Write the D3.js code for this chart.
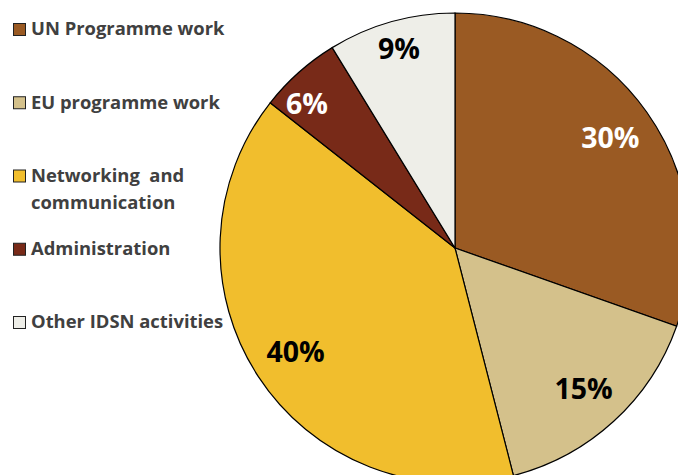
<!DOCTYPE html>
<html>
<head>
<meta charset="utf-8">
<script src="https://cdn.jsdelivr.net/npm/d3@7"></script>
<style>
  body { margin: 0; background: #fff; }
  svg { display: block; }
</style>
</head>
<body>
<div id="chart"></div>
<script>
const categories = ['UN Programme work', 'EU programme work', 'Networking  and communication', 'Administration', 'Other IDSN activities']
const legendLines = [['UN Programme work'], ['EU programme work'], ['Networking  and', 'communication'], ['Administration'], ['Other IDSN activities']]
const shares = [30.4, 15.6, 39.6, 5.65, 8.75]
const labels = ['30%', '15%', '40%', '6%', '9%']

const width = 678, height = 475
const cx = 455, cy = 248, radius = 235

const colors = ['#9A5A23', '#D4C18B', '#F1BE2D', '#782A18', '#EEEEE8']
const labelColors = ['#fff', '#000', '#000', '#fff', '#000']

const svg = d3.select('#chart').append('svg')
    .attr('width', width)
    .attr('height', height)
    .style('font-family', '"Open Sans", sans-serif')
    .style('font-weight', 'bold')

const data = categories.map((c, i) => ({ name: c, value: shares[i], i: i }))

const pie = d3.pie().sort(null).value(d => d.value)
const arcs = pie(data)

const arc = d3.arc().innerRadius(0).outerRadius(radius)

const g = svg.append('g').attr('transform', `translate(${cx},${cy})`)

g.selectAll('path')
    .data(arcs)
    .join('path')
    .attr('d', arc)
    .attr('fill', d => colors[d.data.i])
    .attr('stroke', '#000')
    .attr('stroke-width', 1.2)

// small slices get their label pushed a bit further out
const labelArc = d => {
    const r = (d.endAngle - d.startAngle) < 0.7 ? radius * 0.88 : radius * 0.81
    const a = (d.endAngle - d.startAngle) < 0.5 ? -0.07 : 0
    return d3.arc().innerRadius(r).outerRadius(r).centroid({ startAngle: d.startAngle + a, endAngle: d.endAngle + a })
}

g.selectAll('text')
    .data(arcs)
    .join('text')
    .attr('transform', d => `translate(${labelArc(d)})`)
    .attr('text-anchor', 'middle')
    .attr('dy', '0.36em')
    .attr('font-size', 28.5)
    .attr('fill', d => labelColors[d.data.i])
    .text(d => labels[d.data.i])

// legend
const legendY = d3.scalePoint().domain(d3.range(categories.length)).range([29, 322])

const legend = svg.append('g')
    .selectAll('g')
    .data(data)
    .join('g')
    .attr('transform', d => `translate(13,${legendY(d.i)})`)

legend.append('rect')
    .attr('x', 0.5)
    .attr('y', -5.5)
    .attr('width', 12)
    .attr('height', 12)
    .attr('fill', d => colors[d.i])
    .attr('stroke', '#222')
    .attr('stroke-width', 1)

legend.append('text')
    .attr('x', 18)
    .attr('font-size', 18.4)
    .attr('fill', '#404040')
    .selectAll('tspan')
    .data(d => legendLines[d.i])
    .join('tspan')
    .attr('x', 18)
    .attr('y', (d, j) => j * 27)
    .attr('dy', '0.35em')
    .style('white-space', 'pre')
    .text(d => d)
</script>
</body>
</html>
